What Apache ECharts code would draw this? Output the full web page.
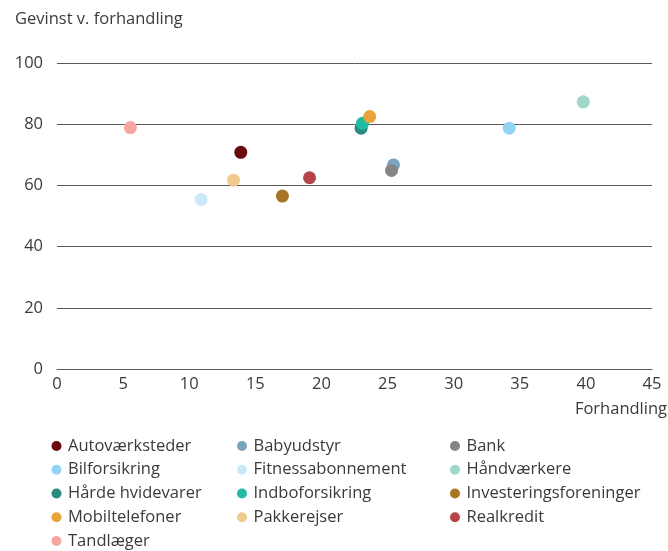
<!DOCTYPE html>
<html>
<head>
<meta charset="utf-8">
<script src="https://cdn.jsdelivr.net/npm/echarts@6/dist/echarts.min.js"></script>
<style>
  html, body { margin: 0; padding: 0; background: #fff; }
  #chart { width: 668px; height: 551px; }
</style>
</head>
<body>
<div id="chart"></div>
<script>
// Brancher: forhandling (x) og gevinst ved forhandling (y)
const categories = [
  'Autoværksteder', 'Babyudstyr', 'Bank', 'Bilforsikring', 'Fitnessabonnement',
  'Håndværkere', 'Hårde hvidevarer', 'Indboforsikring', 'Investeringsforeninger',
  'Mobiltelefoner', 'Pakkerejser', 'Realkredit', 'Tandlæger'
];
const forhandling = [13.9, 25.45, 25.3, 34.2, 10.9, 39.8, 23.0, 23.1, 17.05, 23.65, 13.35, 19.1, 5.55];
const gevinst     = [70.8, 66.7, 64.9, 78.7, 55.4, 87.3, 78.7, 80.3, 56.5, 82.5, 61.7, 62.5, 78.9];
const colors = [
  '#6a0a0c', '#78a4c0', '#858585', '#93d4f5', '#cbe8f8',
  '#9fd7cb', '#2b8b7f', '#21baa4', '#a77524', '#e8a33a',
  '#f0c98f', '#b4434a', '#f5a6a1'
];
const xTicks = { min: 0, max: 45, interval: 5 };
const yTicks = { min: 0, max: 100, interval: 20 };

// Legend columns
const legendCols = [
  ['Autoværksteder', 'Bilforsikring', 'Hårde hvidevarer', 'Mobiltelefoner', 'Tandlæger'],
  ['Babyudstyr', 'Fitnessabonnement', 'Indboforsikring', 'Pakkerejser'],
  ['Bank', 'Håndværkere', 'Investeringsforeninger', 'Realkredit']
];
const legendLeft = [46.5, 232, 445];

const FONT = '"Open Sans", "Noto Sans", sans-serif';
const TXT = '#3a3a3a';
const FS = 16.5;

const chart = echarts.init(document.getElementById('chart'), null, { renderer: 'canvas' });

const series = categories.map((name, i) => ({
  name: name,
  type: 'scatter',
  symbol: 'circle',
  symbolSize: 13,
  itemStyle: { color: colors[i], opacity: 1 },
  emphasis: { disabled: true },
  data: [[forhandling[i], gevinst[i]]]
}));

const legends = legendCols.map((col, k) => ({
  orient: 'vertical',
  left: legendLeft[k],
  top: 432,
  height: 140,
  itemWidth: 13,
  itemHeight: 10,
  itemGap: 5.75,
  icon: 'circle',
  selectedMode: false,
  data: col,
  textStyle: { fontFamily: FONT, fontSize: FS, color: TXT, lineHeight: 18 }
}));

chart.setOption({
  animation: false,
  backgroundColor: '#fff',
  color: colors,
  grid: { left: 57, right: 16, top: 63, bottom: 182, containLabel: false },
  xAxis: {
    type: 'value',
    min: xTicks.min, max: xTicks.max, interval: xTicks.interval,
    axisLine: { show: true, lineStyle: { color: '#5a5a5a', width: 1 } },
    axisTick: { show: false },
    splitLine: { show: false },
    axisLabel: { color: TXT, fontFamily: FONT, fontSize: FS, margin: 7 }
  },
  yAxis: {
    type: 'value',
    min: yTicks.min, max: yTicks.max, interval: yTicks.interval,
    axisLine: { show: false },
    axisTick: { show: false },
    splitLine: { show: true, lineStyle: { color: '#5a5a5a', width: 1 } },
    axisLabel: { color: TXT, fontFamily: FONT, fontSize: FS, margin: 14 }
  },
  legend: legends,
  graphic: [
    {
      type: 'text', left: 15, top: 11,
      style: { text: 'Gevinst v. forhandling', fill: TXT, font: FS + 'px ' + FONT }
    },
    {
      type: 'text', right: 1, top: 401,
      style: { text: 'Forhandling', fill: TXT, font: FS + 'px ' + FONT }
    }
  ],
  series: series
});
</script>
</body>
</html>
